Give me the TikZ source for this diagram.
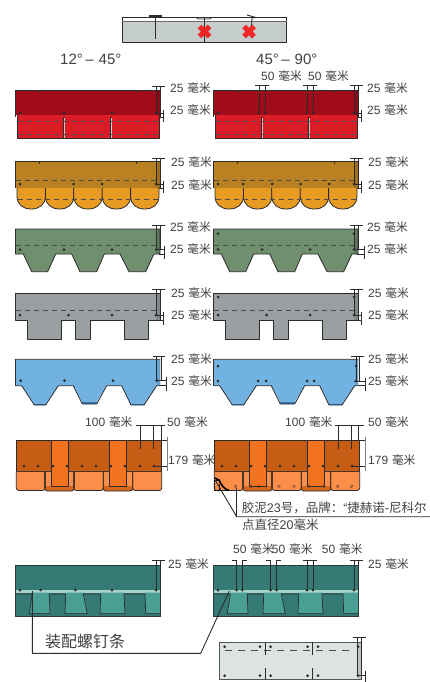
\documentclass[tikz,border=0pt]{standalone}
\usepackage{fontspec}
\setmainfont{Liberation Sans}
\newfontfamily\cjk{Noto Sans CJK SC}
\newcommand{\hmm}{\hspace{3.8pt}{\cjk\fontsize{11.7}{12}\selectfont 毫米}}
\definecolor{ink}{HTML}{2B2B2B}
\definecolor{txt}{HTML}{404040}
\definecolor{rd}{HTML}{A00C1A}\definecolor{rl}{HTML}{DC1C26}
\definecolor{od}{HTML}{BA8123}\definecolor{ol}{HTML}{E79B22}
\definecolor{gn}{HTML}{6F8F6E}
\definecolor{gy}{HTML}{9A9FA1}
\definecolor{bl}{HTML}{71B2E3}\definecolor{bd}{HTML}{2F6FA6}
\definecolor{ord}{HTML}{C75C14}\definecolor{orb}{HTML}{F47320}\definecolor{orl}{HTML}{FB8F4A}
\definecolor{td}{HTML}{357A75}\definecolor{tl}{HTML}{4A9F95}\definecolor{tm}{HTML}{A5D3C8}
\definecolor{pale}{HTML}{DDE3E3}\definecolor{steel}{HTML}{C5CCCC}
\definecolor{xred}{HTML}{EE2727}
\tikzset{
  lab/.style={font=\fontsize{12}{13}\selectfont,text=txt,anchor=west,inner sep=0pt},
  note/.style={font=\fontsize{12.5}{13}\selectfont,text=txt,anchor=west,inner sep=0pt},
  outln/.style={draw=ink,line width=.8pt,line join=round},
  thin line/.style={draw=ink,line width=.7pt},
  dashline/.style={draw=ink!85,line width=.6pt,dash pattern=on 5pt off 4pt},
  nailp/.style={fill=ink,draw=none},
  lead/.style={draw=ink,line width=.9pt,line join=round},
  stripfill/.style={fill=black,opacity=.14},
}
\newcommand{\nails}[2]{\foreach \px in {#1}{\fill[nailp] (\px,#2) circle[radius=1.5pt];}}
% top dimension: verticals at x1,x2 from ytop to ybot, tick from xa to xb
\newcommand{\dimtop}[6]{\draw[thin line] (#1,#3)--(#1,#4) (#2,#3)--(#2,#4) (#5,#3)--(#6,#3);}
% lower dimension
\newcommand{\dimlow}[5]{\draw[thin line] (#1,#3)--(#5,#3) (#2,#4)--(#5,#4) (#5,#3-3.5)--(#5,#4+5);}
\newcommand{\redshape}{%
  \fill[rl,outln] (17,112) rectangle (159,138);
  \fill[rd] (15.5,90.5) rectangle (160,115);
  \fill[stripfill] (156,90.5) rectangle (160,115);
  \draw[outln] (15.5,117)--(15.5,90.5)--(160,90.5)--(160,117);
  \foreach \s in {64,111}{\draw[draw=ink,line width=1.4pt] (\s,117)--(\s,138); \draw[draw=white!80!black,line width=.5pt] (\s,118)--(\s,138);}
  \draw[dashline] (18,121)--(158,121) (18,134)--(158,134);
  \draw[thin line] (39.5,90.5)--(39.5,93) (136,90.5)--(136,93);
}
\newcommand{\ochreshape}{%
  \foreach \a in {17,45.4,73.8,102.2,130.6}{
    \fill[ol,outln] (\a,186) -- (\a,196) .. controls (\a,205) and ({\a+6.5},209) .. ({\a+14.2},209) .. controls ({\a+22},209) and ({\a+28.4},205) .. ({\a+28.4},196) -- ({\a+28.4},186) -- cycle;}
  \fill[od] (15.5,161) rectangle (160,188);
  \fill[stripfill] (156,161) rectangle (160,188);
  \draw[outln] (15.5,188)--(15.5,161)--(160,161)--(160,188);
  \draw[dashline] (16,180.5)--(158,180.5) (18,199.5)--(158,199.5);
  \draw[thin line] (39.5,161)--(39.5,164) (136,161)--(136,164);
}
\newcommand{\greenshape}{%
  \fill[gn,outln] (15.5,229) -- (160,229) -- (160,254) -- (154,254) -- (145.7,271.7) -- (129,271.7) -- (120,254) -- (104.3,254) -- (96.7,271.7) -- (80,271.7) -- (71.7,254) -- (55.7,254) -- (47.7,271.7) -- (31.7,271.7) -- (23.3,254) -- (15.5,254) -- cycle;
  \fill[stripfill] (156,229.4) rectangle (160,253.6);
  \draw[dashline] (16,245.7)--(158,245.7);
}
\newcommand{\grayshape}{%
  \fill[gy,outln] (15.5,293.3) -- (160,293.3) -- (160,320) -- (148.3,320) -- (148.3,339) -- (124,339) -- (124,320) -- (90,320) -- (90,339) -- (75.7,339) -- (75.7,320) -- (61.7,320) -- (61.7,339) -- (27.7,339) -- (27.7,320) -- (15.5,320) -- cycle;
  \fill[stripfill] (156,293.7) rectangle (160,319.6);
  \draw[dashline] (16,310)--(158,310);
}
\newcommand{\blueshape}{%
  \fill[bd] (33,403) -- (34.3,405) -- (45.7,405) -- (47,403) -- cycle;
  \fill[bd] (81,402) -- (83,404) -- (96,404) -- (98,402) -- cycle;
  \fill[bd] (130,403) -- (131,405) -- (144,405) -- (145.5,403) -- cycle;
  \fill[bl] (15.5,359.3) -- (160,359.3) -- (160,385.7) -- (156.7,385.7) -- (144,404) -- (131,404) -- (121.7,385.7) -- (106.7,385.7) -- (96.7,402) -- (82.3,402) -- (73.3,385.7) -- (58.3,385.7) -- (45.7,404) -- (34.3,404) -- (21.7,385.7) -- (15.5,385.7) -- cycle;
  \fill[stripfill,opacity=.08] (156.7,359.3) rectangle (161,385.7);
  \draw[outln] (160,359.3) -- (15.5,359.3) -- (15.5,385.7) -- (21.7,385.7) -- (34.3,405) -- (45.7,405) -- (58.3,385.7) -- (73.3,385.7) -- (82.3,404) -- (96.7,404) -- (106.7,385.7) -- (121.7,385.7) -- (131,405) -- (144,405) -- (156.7,385.7) -- (160,385.7);
}
\newcommand{\orangeshape}{%
  \foreach \a/\b in {16.3/45,74/103.3,132.7/161.7}{\fill[orl,outln,rounded corners=2.5pt] (\a,470) -- (\a,490.5) -- (\b,490.5) -- (\b,470) -- cycle;}
  \foreach \a/\b in {45/74,103.3/132.7}{\fill[orb!88!black,outln,rounded corners=2.5pt] (\a,470) -- (\a,491) -- (\b,491) -- (\b,470) -- cycle;\fill[orl] ({\a+1},472) rectangle ({\b-1},486);}
  \fill[ord] (16.3,440.3) rectangle (161.7,471);
  \draw[outln] (16.3,471)--(16.3,440.3)--(161.7,440.3)--(161.7,471);
  \draw[draw=ink!80!ord,line width=.9pt] (16.3,471)--(161.7,471);
  \foreach \a/\b in {51.3/68.3,109.3/126.7}{\fill[orb,outln] (\a,440.3) rectangle (\b,486.7);}
  \foreach \a in {45,74,103.3,132.7}{\draw[draw=ink!80!ord,line width=1.2pt] (\a,471)--(\a,488);}
}
\newcommand{\tealshape}{%
  \fill[td] (15.7,565.7) rectangle (160,616);
  \fill[tm] (15.7,590) rectangle (160,592.5);
  \fill[tl] (32.3,592.5)--(29.3,613.7)--(50,613.7)--(49.3,592.5)--cycle;
  \fill[tl] (65.7,592.5)--(65,613.7)--(87.3,613.7)--(83.3,592.5)--cycle;
  \fill[tl] (100.7,592.5)--(100,613.7)--(125,613.7)--(124,592.5)--cycle;
  \fill[tl] (145,592.5)--(145.7,613.7)--(160,613.7)--(160,592.5)--cycle;
  \draw[thin line] (15.7,594)--(32.3,594)--(29.3,613.7)--(50,613.7)--(49.3,594)--(65.7,594)--(65,613.7)--(87.3,613.7)--(83.3,594)--(100.7,594)--(100,613.7)--(125,613.7)--(124,594)--(145,594)--(145.7,613.7)--(160,613.7);
  \draw[draw=ink!80!td,line width=1pt] (15.7,565.7) rectangle (160,616);
}
\begin{document}
\begin{tikzpicture}[x=1pt,y=-1pt]
\useasboundingbox (0,0) rectangle (430,682);
% ---- top section
\fill[steel,outln] (122.3,17.3) rectangle (286.7,42.3);
\fill[white] (122.7,17.7) rectangle (286.3,20.8);
\draw[draw=ink,line width=.6pt] (122.3,17.3)--(196,17.3) (212,17.3)--(286.7,17.3);
\draw[draw=ink,line width=.6pt] (196,17.3)--(198,19)--(210,19)--(212,17.3);
\draw[draw=ink!70,line width=1pt] (122.3,21.5)--(286.7,21.5);
\draw[draw=ink,line width=.9pt] (155.3,16)--(155.3,39);
\draw[draw=ink,line width=1.2pt] (149,16)--(161.5,16);
\draw[draw=ink,line width=.9pt] (204,18.5)--(204,42);
\draw[draw=ink,line width=.9pt] (247,15)--(256,17.5)--(252,18)--(251,38);
\foreach \cx in {204.5,249}{\draw[draw=xred,line width=5.2pt] (\cx-5,26.5)--(\cx+5,36.5) (\cx+5,26.5)--(\cx-5,36.5);}
\node[lab,font=\fontsize{15}{16}\selectfont] (ang1) at (60,59) {12°\,–\,\,45°};
\node[lab,font=\fontsize{15}{16}\selectfont] (ang2) at (256,59) {45°\,–\,\,90°};
% ---- row 1
\redshape
\nails{20,64,112,156}{113}
\dimtop{156}{160}{86}{113}{152}{165}
\dimlow{155}{159}{113.3}{117}{163.5}
\node[lab] (a1) at (170,88) {25\hmm};
\node[lab] (a2) at (170,110) {25\hmm};
\begin{scope}[shift={(198,0)}]\redshape\end{scope}
\nails{218,259,265,307,313,354}{113}
\foreach \v in {259,307}{\dimtop{\v}{\v+6}{85}{113}{\v-4}{\v+10}}
\dimtop{354}{358}{85}{113}{350}{363}
\dimlow{353}{357}{113.3}{117}{361.5}
\node[lab] (a3) at (261,75.7) {50\hmm};
\node[lab] (a4) at (308,75.7) {50\hmm};
\node[lab] (a5) at (367,88) {25\hmm};
\node[lab] (a6) at (367,110) {25\hmm};
% ---- row 2
\ochreshape
\nails{20,73.5,102,156}{184}
\dimtop{156}{160}{158}{184}{152}{165}
\dimlow{155}{159}{184.3}{188}{163.5}
\node[lab] (b1) at (171,162) {25\hmm};
\node[lab] (b2) at (171,185) {25\hmm};
\begin{scope}[shift={(198,0)}]\ochreshape\end{scope}
\nails{218,243,272,300.6,329,354}{184}
\dimtop{354}{358}{158}{184}{350}{363}
\dimlow{353}{357}{184.3}{188}{361.5}
\node[lab] (b3) at (368,162) {25\hmm};
\node[lab] (b4) at (368,185) {25\hmm};
% ---- row 3
\greenshape
\nails{20,64,112,156}{249.5}
\dimtop{156}{160}{225}{250}{152}{165}
\dimlow{155}{159}{249.7}{254}{164.5}
\node[lab] (c1) at (170,226.5) {25\hmm};
\node[lab] (c2) at (170,249) {25\hmm};
\begin{scope}[shift={(198,0)}]\greenshape\end{scope}
\nails{218,262,310,354}{249.5}
\nails{218,354}{233.7}
\dimtop{354}{358}{225}{250}{350}{363}
\dimlow{353}{357}{249.7}{254}{364}
\node[lab] (c3) at (367,226.5) {25\hmm};
\node[lab] (c4) at (367,249) {25\hmm};
% ---- row 4
\grayshape
\nails{20,68.5,112,156}{315}
\dimtop{156}{160}{289}{315}{152}{165}
\dimlow{155}{159}{315.3}{320}{163.5}
\node[lab] (d1) at (171,292.5) {25\hmm};
\node[lab] (d2) at (171,314.5) {25\hmm};
\begin{scope}[shift={(198,0)}]\grayshape\end{scope}
\nails{218,266.7,310,354}{315}
\nails{218,354}{297}
\dimtop{354}{358}{289}{315}{350}{363}
\dimlow{353}{357}{315.3}{320}{361.5}
\node[lab] (d3) at (368,292.5) {25\hmm};
\node[lab] (d4) at (368,314.5) {25\hmm};
% ---- row 5
\blueshape
\nails{20.7,64.5,113,157}{380.7}
\dimtop{156.7}{161}{356}{381}{153}{165}
\dimlow{155}{160}{380.7}{385.7}{166}
\node[lab] (e1) at (171,358.5) {25\hmm};
\node[lab] (e2) at (171,380.5) {25\hmm};
\begin{scope}[shift={(198,0)}]\blueshape\end{scope}
\nails{218,258,266,307,314,356}{381}
\nails{218,356}{366}
\dimtop{356}{359.5}{356}{381}{351}{364}
\dimlow{354}{358}{381}{385.7}{365.7}
\node[lab] (e3) at (368,358.5) {25\hmm};
\node[lab] (e4) at (368,380.5) {25\hmm};
% ---- row 6
\orangeshape
\nails{24,38,53,67,82,96,111,125,140,154}{466}
\draw[thin line] (136,425.5)--(165,425.5) (140.5,425.5)--(140.5,449) (153.5,425.5)--(153.5,449) (161,425.5)--(161,440.3);
\draw[thin line] (161,440.3)--(168,440.3) (154,466)--(168,466);
\draw[draw=gray,line width=1pt] (167,437)--(167,471);
\node[lab] (f1) at (85,422) {100\hmm};
\node[lab] (f2) at (167,422) {50\hmm};
\node[lab] (f3) at (168,460) {179\hmm};
\begin{scope}[shift={(198,0)}]\orangeshape\end{scope}
\nails{222,236,251,265,280,294,309,323,338,352}{466}
\draw[thin line] (335,425.5)--(363.5,425.5) (338.3,425.5)--(338.3,449) (351,425.5)--(351,449) (358.7,425.5)--(358.7,440.3);
\draw[thin line] (358.7,440.3)--(366,440.3) (352,466)--(366,466);
\draw[draw=gray,line width=1pt] (365,437)--(365,471);
\node[lab] (f4) at (285,422) {100\hmm};
\node[lab] (f5) at (368,422) {50\hmm};
\node[lab] (f6) at (368,460) {179\hmm};
\foreach \h in {235.7,251,259,279,294,309,324,337.7,351.7}{\draw[draw=ink!70!ord,line width=.4pt] (\h,486.3) circle[radius=1.4pt];}
\draw[draw=black,line width=1.6pt] (214.5,478)--(219,480) .. controls (222,486) and (224,489) .. (229,490.5);
\draw[draw=black,line width=.4pt,densely dotted] (214,480) rectangle (219,490);
\node[note] (g1) at (241.7,508) {{\cjk 胶泥}23{\cjk 号，品牌：}“{\cjk 捷赫诺}-{\cjk 尼科尔}};
\node[note] (g2) at (242,524.3) {{\cjk 点直径}20{\cjk 毫米}};
\coordinate (ga) at (215,480);
\coordinate (gb) at (236.7,516.7);
\coordinate (gc) at (430,516.7);
\coordinate (gd) at (236.7,488);
\draw[lead] (ga)--(gb)--(gc);
\draw[lead] (gd)--(gb);
% ---- row 7
\tealshape
\nails{20,40.7,75.3,112,156}{590}
\dimtop{156}{160}{560}{590}{152}{165}
\node[lab] (h1) at (168,563.5) {25\hmm};
\begin{scope}[shift={(198,0)}]\tealshape\end{scope}
\nails{218,236.7,242.3,270.7,276.7,307,313,354}{590}
\foreach \v in {236.7,270.7}{\draw[thin line] (\v,560)--(\v,590) (\v+5.5,560)--(\v+5.5,590) (\v-5,560)--(\v,560) (\v+5.5,560)--(\v+10.5,560);}
\dimtop{307}{313}{560}{590}{303}{317}
\dimtop{354}{358}{560}{590}{350}{363}
\node[lab] (h2) at (233,549) {50\hmm};
\node[lab] (h3) at (271.7,549) {50\hmm};
\node[lab] (h4) at (321.7,549) {50\hmm};
\node[lab] (h5) at (368,564) {25\hmm};
\node[lab,font=\fontsize{16}{17}\selectfont\cjk] (h6) at (45,641) {装配螺钉条};
\coordinate (la) at (32.3,591);
\coordinate (lb) at (32.3,653.3);
\coordinate (lc) at (200.7,653.3);
\coordinate (ld) at (229.3,591);
\draw[lead] (la)--(lb)--(lc)--(ld);
% ---- bottom strip
\fill[pale,draw=ink!80,line width=.9pt] (219.7,642.3) rectangle (361.7,679.3);
\draw[dashline,dash pattern=on 7pt off 6pt] (225,650)--(355,650);
\foreach \s in {265.7,312.7}{\draw[thin line] (\s,642.3)--(\s,655) (\s,668)--(\s,679.3);}
\fill[stripfill] (357.7,642.3) rectangle (361.7,679.3);
\nails{224.7,260,270.7,307.7,318,358}{646.7}
\nails{224.7,260,270.7,307.7,318,358}{675.7}
\dimtop{357.7}{361.7}{637}{676}{353}{366}
\draw[thin line] (357.7,675.7)--(366,675.7) (365,671)--(365,682);
\end{tikzpicture}
\end{document}
